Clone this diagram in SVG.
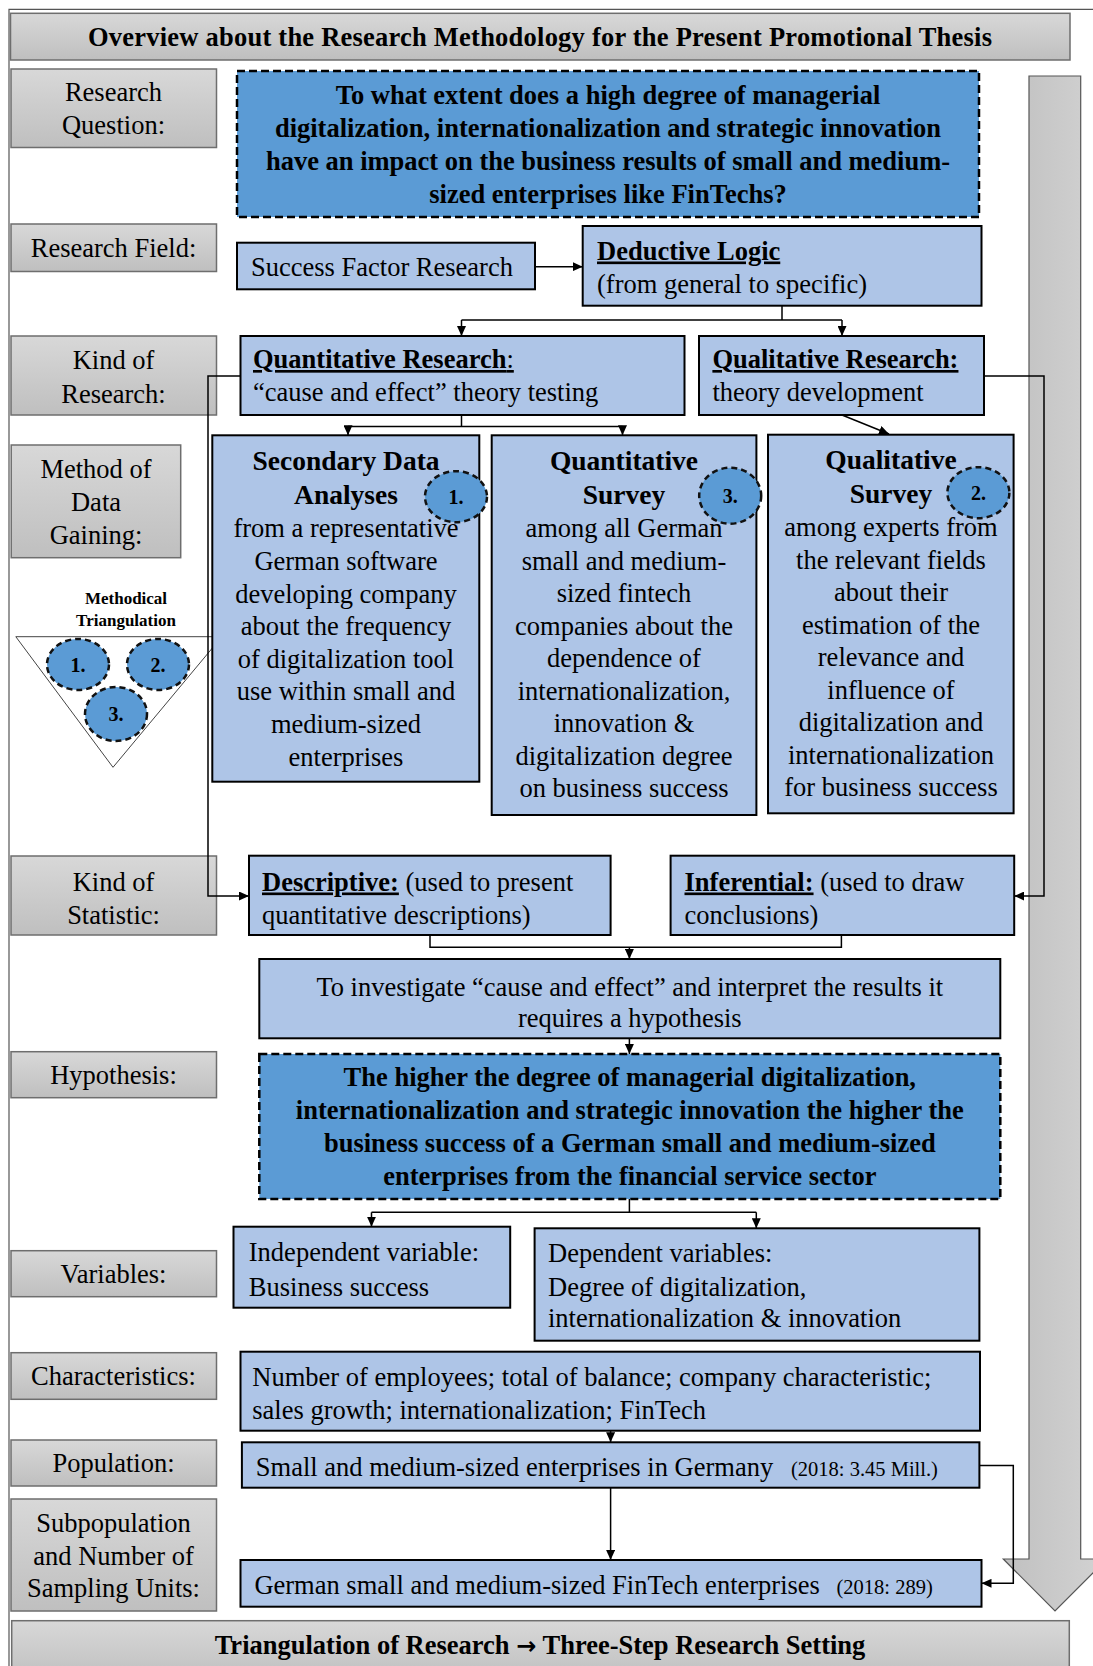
<svg xmlns="http://www.w3.org/2000/svg" width="1093" height="1666" viewBox="0 0 1093 1666">
<defs>
<linearGradient id="gg" x1="0" y1="0" x2="0" y2="1"><stop offset="0" stop-color="#d8d8d8"/><stop offset="1" stop-color="#bfbfbf"/></linearGradient>
<linearGradient id="ga" x1="0" y1="0" x2="1" y2="0"><stop offset="0" stop-color="#c0c0c0"/><stop offset="1" stop-color="#d3d3d3"/></linearGradient>
<marker id="ah" markerUnits="userSpaceOnUse" markerWidth="11" markerHeight="9" refX="10" refY="4.5" orient="auto"><path d="M0,0 L10,4.5 L0,9 z" fill="#000"/></marker>
</defs>
<style>
text{font-family:"Liberation Serif","Times New Roman",serif;fill:#000}
.t{font-size:26.5px}
.b{font-weight:bold}
.c{text-anchor:middle}
.u{text-decoration:underline}
.sm{font-size:20.5px}
.lbl{fill:url(#gg);stroke:#6e6e6e;stroke-width:1.5}
.box{fill:#aec5e7;stroke:#000;stroke-width:2}
.dbox{fill:#5b9bd5;stroke:#000;stroke-width:2.5;stroke-dasharray:8 4}
.circ{fill:#5b9bd5;stroke:#111;stroke-width:2.5;stroke-dasharray:6 4}
.con{fill:none;stroke:#000;stroke-width:1.5}
.arr{fill:none;stroke:#000;stroke-width:1.5;marker-end:url(#ah)}
.num{font-size:20px;font-weight:bold}
</style>
<rect width="1093" height="1666" fill="#fff"/>
<path d="M9,1666 V9.3 H1093" fill="none" stroke="#555" stroke-width="1.2"/>

<g id="big-arrow">
<polygon points="1029,76 1080.7,76 1080.7,1559 1106.7,1559 1055,1611 1003.3,1559 1029,1559" fill="url(#ga)" stroke="#555" stroke-width="1.2"/>
</g>

<g id="title">
<rect class="lbl" x="10.5" y="13.3" width="1059.5" height="46.7"/>
<text class="t b c" x="540" y="46" textLength="904" lengthAdjust="spacing">Overview about the Research Methodology for the Present Promotional Thesis</text>
</g>

<g id="label-research-question">
<rect class="lbl" x="11" y="69" width="205.5" height="78.5"/>
<text class="t c" x="113.5" y="101">Research</text>
<text class="t c" x="113.5" y="134">Question:</text>
</g>
<g id="label-research-field">
<rect class="lbl" x="11" y="224" width="205.5" height="47.5"/>
<text class="t c" x="113.5" y="257">Research Field:</text>
</g>
<g id="label-kind-of-research">
<rect class="lbl" x="11" y="336" width="205.5" height="79"/>
<text class="t c" x="113.5" y="369">Kind of</text>
<text class="t c" x="113.5" y="403">Research:</text>
</g>
<g id="label-method">
<rect class="lbl" x="11.2" y="445" width="169.5" height="112.7"/>
<text class="t c" x="96" y="478">Method of</text>
<text class="t c" x="96" y="511">Data</text>
<text class="t c" x="96" y="543.5">Gaining:</text>
</g>
<g id="label-kind-of-statistic">
<rect class="lbl" x="11" y="856" width="205.5" height="79"/>
<text class="t c" x="113.5" y="890.5">Kind of</text>
<text class="t c" x="113.5" y="924">Statistic:</text>
</g>
<g id="label-hypothesis">
<rect class="lbl" x="11" y="1051.7" width="205.5" height="46"/>
<text class="t c" x="113.5" y="1083.5">Hypothesis:</text>
</g>
<g id="label-variables">
<rect class="lbl" x="11" y="1250.7" width="205.5" height="46"/>
<text class="t c" x="113.5" y="1282.5">Variables:</text>
</g>
<g id="label-characteristics">
<rect class="lbl" x="11" y="1352.7" width="205.5" height="46.6"/>
<text class="t c" x="113.5" y="1385">Characteristics:</text>
</g>
<g id="label-population">
<rect class="lbl" x="11" y="1440" width="205.5" height="46"/>
<text class="t c" x="113.5" y="1472">Population:</text>
</g>
<g id="label-subpopulation">
<rect class="lbl" x="11" y="1499" width="205.5" height="112"/>
<text class="t c" x="113.5" y="1532">Subpopulation</text>
<text class="t c" x="113.5" y="1565">and Number of</text>
<text class="t c" x="113.5" y="1597">Sampling Units:</text>
</g>

<g id="triangulation">
<text class="b c" style="font-size:17px" x="126" y="604">Methodical</text>
<text class="b c" style="font-size:17px" x="126" y="625.5">Triangulation</text>
<polygon points="15.8,636.7 221.8,636.7 113,767.3" fill="none" stroke="#444" stroke-width="1"/>
<ellipse class="circ" cx="78" cy="664.5" rx="31" ry="25.5"/>
<text class="num c" x="78" y="671.5">1.</text>
<ellipse class="circ" cx="158" cy="664.5" rx="31" ry="25.5"/>
<text class="num c" x="158" y="671.5">2.</text>
<ellipse class="circ" cx="116" cy="714" rx="31" ry="27"/>
<text class="num c" x="116" y="721">3.</text>
</g>

<g id="connectors">
<line class="arr" x1="535" y1="266.7" x2="582.7" y2="266.7"/>
<polyline class="con" points="782,305.7 782,320"/>
<line class="con" x1="461.5" y1="320" x2="842" y2="320"/>
<line class="arr" x1="461.5" y1="320" x2="461.5" y2="336"/>
<line class="arr" x1="842" y1="320" x2="842" y2="336"/>
<line class="con" x1="461.5" y1="415" x2="461.5" y2="426.5"/>
<line class="con" x1="348" y1="426.5" x2="622.5" y2="426.5"/>
<line class="arr" x1="348" y1="426.5" x2="348" y2="435.3"/>
<line class="arr" x1="622.5" y1="426.5" x2="622.5" y2="435.3"/>
<line class="arr" x1="842" y1="415" x2="889" y2="434"/>
<polyline class="arr" points="240,376 208,376 208,896 249,896"/>
<polyline class="arr" points="984,376 1044,376 1044,896 1014.2,896"/>
<polyline class="con" points="430,935 430,947.3 841.4,947.3 841.4,935"/>
<line class="arr" x1="629.4" y1="947.3" x2="629.4" y2="959"/>
<line class="arr" x1="629.4" y1="1038.3" x2="629.4" y2="1054"/>
<line class="con" x1="629.4" y1="1199" x2="629.4" y2="1212.3"/>
<line class="con" x1="371.5" y1="1212.3" x2="756.3" y2="1212.3"/>
<line class="arr" x1="371.5" y1="1212.3" x2="371.5" y2="1226.7"/>
<line class="arr" x1="756.3" y1="1212.3" x2="756.3" y2="1228.3"/>
<line class="arr" x1="610.6" y1="1430.7" x2="610.6" y2="1442.3"/>
<line class="arr" x1="610.6" y1="1487.7" x2="610.6" y2="1560"/>
<polyline class="arr" points="979.4,1465.5 1013.3,1465.5 1013.3,1583.3 981.5,1583.3"/>
</g>

<g id="research-question">
<rect class="dbox" x="237" y="71" width="742" height="146"/>
<text class="t b c" x="608" y="104">To what extent does a high degree of managerial</text>
<text class="t b c" x="608" y="137">digitalization, internationalization and strategic innovation</text>
<text class="t b c" x="608" y="170">have an impact on the business results of small and medium-</text>
<text class="t b c" x="608" y="203">sized enterprises like FinTechs?</text>
</g>

<g id="success-factor">
<rect class="box" x="237" y="242.7" width="298" height="46.6"/>
<text class="t" x="251" y="275.5">Success Factor Research</text>
</g>
<g id="deductive-logic">
<rect class="box" x="582.7" y="226" width="398.8" height="79.7"/>
<text class="t b u" x="597" y="259.5">Deductive Logic</text>
<text class="t" x="597" y="293">(from general to specific)</text>
</g>

<g id="quantitative-research">
<rect class="box" x="240.5" y="336" width="444" height="79"/>
<text class="t" x="253" y="368"><tspan class="b u">Quantitative  Research</tspan><tspan class="u">:</tspan></text>
<text class="t" x="253" y="401">“cause and effect” theory testing</text>
</g>
<g id="qualitative-research">
<rect class="box" x="699" y="336" width="285" height="79"/>
<text class="t b u" x="712.4" y="368">Qualitative  Research:</text>
<text class="t" x="712.4" y="401">theory development</text>
</g>

<g id="secondary-data">
<rect class="box" x="212.3" y="435.3" width="267" height="346.4"/>
<text class="t b c" style="font-size:27.5px" x="346" y="469.5">Secondary Data</text>
<text class="t b c" style="font-size:27.5px" x="346" y="504">Analyses</text>
<text class="t c" x="346" y="537.3">from a representative</text>
<text class="t c" x="346" y="570">German software</text>
<text class="t c" x="346" y="602.5">developing company</text>
<text class="t c" x="346" y="635">about the frequency</text>
<text class="t c" x="346" y="667.7">of digitalization tool</text>
<text class="t c" x="346" y="700.3">use within small and</text>
<text class="t c" x="346" y="733">medium-sized</text>
<text class="t c" x="346" y="765.5">enterprises</text>
<ellipse class="circ" cx="456" cy="496.7" rx="31" ry="25.5"/>
<text class="num c" x="456" y="503.5">1.</text>
</g>

<g id="quantitative-survey">
<rect class="box" x="491.7" y="435.3" width="264.7" height="379.7"/>
<text class="t b c" style="font-size:27.5px" x="624" y="469.5">Quantitative</text>
<text class="t b c" style="font-size:27.5px" x="624" y="503.5">Survey</text>
<text class="t c" x="624" y="537.3">among all German</text>
<text class="t c" x="624" y="569.8">small and medium-</text>
<text class="t c" x="624" y="602.3">sized fintech</text>
<text class="t c" x="624" y="634.8">companies about the</text>
<text class="t c" x="624" y="667.3">dependence of</text>
<text class="t c" x="624" y="699.8">internationalization,</text>
<text class="t c" x="624" y="732.3">innovation &amp;</text>
<text class="t c" x="624" y="764.8">digitalization degree</text>
<text class="t c" x="624" y="797.3">on business  success</text>
<ellipse class="circ" cx="730.2" cy="495.7" rx="31" ry="28"/>
<text class="num c" x="730.2" y="502.5">3.</text>
</g>

<g id="qualitative-survey">
<rect class="box" x="768" y="434.7" width="245.6" height="378.6"/>
<text class="t b c" style="font-size:27.5px" x="891" y="469">Qualitative</text>
<text class="t b c" style="font-size:27.5px" x="891" y="502.7">Survey</text>
<text class="t c" x="891" y="536">among experts from</text>
<text class="t c" x="891" y="568.5">the relevant fields</text>
<text class="t c" x="891" y="601">about their</text>
<text class="t c" x="891" y="633.5">estimation of the</text>
<text class="t c" x="891" y="666">relevance and</text>
<text class="t c" x="891" y="698.5">influence of</text>
<text class="t c" x="891" y="731">digitalization and</text>
<text class="t c" x="891" y="763.5">internationalization</text>
<text class="t c" x="891" y="796">for business  success</text>
<ellipse class="circ" cx="978.4" cy="492.7" rx="31" ry="25.5"/>
<text class="num c" x="978.4" y="499.5">2.</text>
</g>

<g id="descriptive">
<rect class="box" x="249" y="855.7" width="361.6" height="79.3"/>
<text class="t" x="262" y="890.5"><tspan class="b u">Descriptive:</tspan> (used to present</text>
<text class="t" x="262" y="924">quantitative descriptions)</text>
</g>
<g id="inferential">
<rect class="box" x="670.6" y="855.7" width="343.6" height="79.3"/>
<text class="t" x="684.5" y="890.5"><tspan class="b u">Inferential:</tspan> (used to draw</text>
<text class="t" x="684.5" y="924">conclusions)</text>
</g>

<g id="investigate">
<rect class="box" x="259.3" y="959" width="741" height="79.3"/>
<text class="t c" x="629.8" y="995.5">To investigate “cause and effect” and interpret the results it</text>
<text class="t c" x="629.8" y="1027">requires a hypothesis</text>
</g>

<g id="hypothesis">
<rect class="dbox" x="259.3" y="1054" width="741" height="145"/>
<text class="t b c" x="629.8" y="1086">The higher the degree of managerial digitalization,</text>
<text class="t b c" x="629.8" y="1119">internationalization and strategic innovation the higher the</text>
<text class="t b c" x="629.8" y="1152">business success of a German small and medium-sized</text>
<text class="t b c" x="629.8" y="1185">enterprises from the financial service sector</text>
</g>

<g id="independent">
<rect class="box" x="233.5" y="1226.7" width="276.7" height="81"/>
<text class="t" x="248.8" y="1261">Independent variable:</text>
<text class="t" x="248.8" y="1295.5">Business success</text>
</g>
<g id="dependent">
<rect class="box" x="534.6" y="1228.3" width="444.8" height="112.4"/>
<text class="t" x="548" y="1262">Dependent variables:</text>
<text class="t" x="548" y="1295.5">Degree of digitalization,</text>
<text class="t" x="548" y="1327">internationalization &amp; innovation</text>
</g>

<g id="characteristics">
<rect class="box" x="240.5" y="1351.7" width="739.5" height="79"/>
<text class="t" x="252.3" y="1385.5">Number of employees; total of balance; company characteristic;</text>
<text class="t" x="252.3" y="1419">sales growth; internationalization; FinTech</text>
</g>
<g id="population">
<rect class="box" x="241.9" y="1442.3" width="737.5" height="45.4"/>
<text class="t" x="255.8" y="1475.5">Small and medium-sized enterprises in Germany <tspan class="sm" x="791">(2018: 3.45 Mill.)</tspan></text>
</g>
<g id="subpopulation">
<rect class="box" x="240.5" y="1560" width="741" height="46.7"/>
<text class="t" x="254.4" y="1594">German small and medium-sized FinTech enterprises <tspan class="sm" x="836.5">(2018: 289)</tspan></text>
</g>

<g id="footer">
<rect class="lbl" x="11.7" y="1620.7" width="1057.6" height="60"/>
<text class="t b c" x="540" y="1654">Triangulation of Research <tspan style="font-family:'DejaVu Sans',sans-serif;font-size:24px">→</tspan> Three-Step Research Setting</text>
</g>
</svg>
